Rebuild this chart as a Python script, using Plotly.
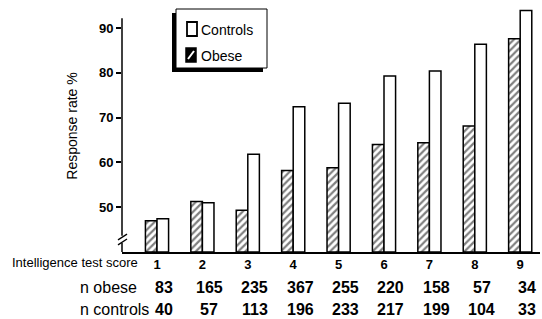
import plotly.graph_objects as go

scores = [1, 2, 3, 4, 5, 6, 7, 8, 9]
obese_rate = [47.0, 51.3, 49.3, 58.2, 58.8, 64.0, 64.4, 68.1, 87.6]
control_rate = [47.4, 51.0, 61.8, 72.4, 73.2, 79.3, 80.4, 86.4, 93.9]
n_obese = [83, 165, 235, 367, 255, 220, 158, 57, 34]
n_controls = [40, 57, 113, 196, 233, 217, 199, 104, 33]
y_ticks = [50, 60, 70, 80, 90]

FONT = "Liberation Sans, Arial, Helvetica, sans-serif"
L, R, T, B = 122, 2, 0, 67
W, H = 542, 319
PW, PH = W - L - R, H - T - B


def px_x(p):
    return (p - L) / PW


def px_y(p):
    return (H - B - p) / PH


fig = go.Figure()
fig.add_trace(go.Bar(
    x=scores, y=[v - 40 for v in obese_rate], base=40, name="Obese",
    marker=dict(color="white", line=dict(color="black", width=1.5),
                pattern=dict(shape="/", fgcolor="black", bgcolor="white",
                             size=5, solidity=0.45)),
    showlegend=False,
))
fig.add_trace(go.Bar(
    x=scores, y=[v - 40 for v in control_rate], base=40, name="Controls",
    marker=dict(color="white", line=dict(color="black", width=1.5)),
    showlegend=False,
))

ymin, ymax = 40, 40 + PH / 4.48
axis_top = 92.2
blk = dict(color="black", width=1.5)
shapes = [
    # y axis with break
    dict(type="line", xref="paper", yref="y", x0=0, x1=0, y0=43.6, y1=axis_top, line=blk),
    dict(type="line", xref="paper", yref="y", x0=0, x1=0, y0=ymin, y1=42.0, line=blk),
    dict(type="line", xref="paper", yref="y", x0=px_x(118), x1=px_x(127),
         y0=42.7, y1=44.0, line=dict(color="black", width=1.3)),
    dict(type="line", xref="paper", yref="y", x0=px_x(118), x1=px_x(127),
         y0=41.6, y1=42.9, line=dict(color="black", width=1.3)),
    # legend shadow and box
    dict(type="rect", xref="paper", yref="paper", x0=px_x(172), x1=px_x(263),
         y0=px_y(72), y1=px_y(13), fillcolor="black", line=dict(width=0),
         layer="above"),
    dict(type="rect", xref="paper", yref="paper", x0=px_x(176), x1=px_x(267),
         y0=px_y(68), y1=px_y(9), fillcolor="white",
         line=dict(color="black", width=1), layer="above"),
    # legend symbols
    dict(type="rect", xref="paper", yref="paper", x0=px_x(187), x1=px_x(197),
         y0=px_y(36), y1=px_y(22), fillcolor="white",
         line=dict(color="black", width=1.8), layer="above"),
    dict(type="rect", xref="paper", yref="paper", x0=px_x(186), x1=px_x(196),
         y0=px_y(62), y1=px_y(48), fillcolor="black",
         line=dict(color="black", width=1.5), layer="above"),
    dict(type="line", xref="paper", yref="paper", x0=px_x(188), x1=px_x(194),
         y0=px_y(59), y1=px_y(51), line=dict(color="white", width=2),
         layer="above"),
]

annotations = [
    dict(text="Controls", xref="paper", yref="paper",
         x=px_x(199), y=px_y(29.5), xanchor="left", yanchor="middle",
         showarrow=False, font=dict(family=FONT, size=14, color="black")),
    dict(text="Obese", xref="paper", yref="paper",
         x=px_x(199), y=px_y(55.5), xanchor="left", yanchor="middle",
         showarrow=False, font=dict(family=FONT, size=14, color="black")),
    dict(text="Intelligence test score", xref="paper", yref="paper",
         x=px_x(10), y=px_y(262), xanchor="left", yanchor="middle",
         showarrow=False, font=dict(family=FONT, size=13, color="black")),
    dict(text="n obese", xref="paper", yref="paper",
         x=px_x(78), y=px_y(287), xanchor="left", yanchor="middle",
         showarrow=False, font=dict(family=FONT, size=16, color="black")),
    dict(text="n controls", xref="paper", yref="paper",
         x=px_x(78), y=px_y(309), xanchor="left", yanchor="middle",
         showarrow=False, font=dict(family=FONT, size=16, color="black")),
]
for s, a, b in zip(scores, n_obese, n_controls):
    annotations.append(dict(text=f"<b>{a}</b>", xref="x", yref="paper",
                            x=s + 0.15, y=px_y(287), xanchor="center",
                            yanchor="middle", showarrow=False,
                            font=dict(family=FONT, size=16, color="black")))
    annotations.append(dict(text=f"<b>{b}</b>", xref="x", yref="paper",
                            x=s + 0.15, y=px_y(309), xanchor="center",
                            yanchor="middle", showarrow=False,
                            font=dict(family=FONT, size=16, color="black")))

x0 = 1 - (157 - L) / 45.4
x1 = 1 + (W - R - 157) / 45.4

fig.update_layout(
    width=W, height=H,
    margin=dict(l=L, r=R, t=T, b=B),
    paper_bgcolor="white", plot_bgcolor="white",
    barmode="group", bargap=0.49, bargroupgap=0,
    font=dict(family=FONT, color="black"),
    showlegend=False,
    xaxis=dict(range=[x0, x1], tickvals=scores,
               ticktext=[f"<b>{s}</b>" for s in scores],
               showline=True, linecolor="black", linewidth=1.5,
               ticks="", showgrid=False, zeroline=False,
               tickfont=dict(family=FONT, size=13, color="black")),
    yaxis=dict(range=[ymin, ymax], tickvals=y_ticks,
               ticktext=[f"<b>{v}</b>" for v in y_ticks],
               ticks="outside", ticklen=5, tickwidth=1.5, tickcolor="black",
               showline=False, showgrid=False, zeroline=False,
               tickfont=dict(family=FONT, size=13, color="black"),
               title=dict(text="Response rate %", standoff=18,
                          font=dict(family=FONT, size=14, color="black"))),
    shapes=shapes,
    annotations=annotations,
)

fig.write_html("out.html", config={"displayModeBar": False},
               post_script="document.body.style.margin='0';document.body.style.overflow='hidden';")
